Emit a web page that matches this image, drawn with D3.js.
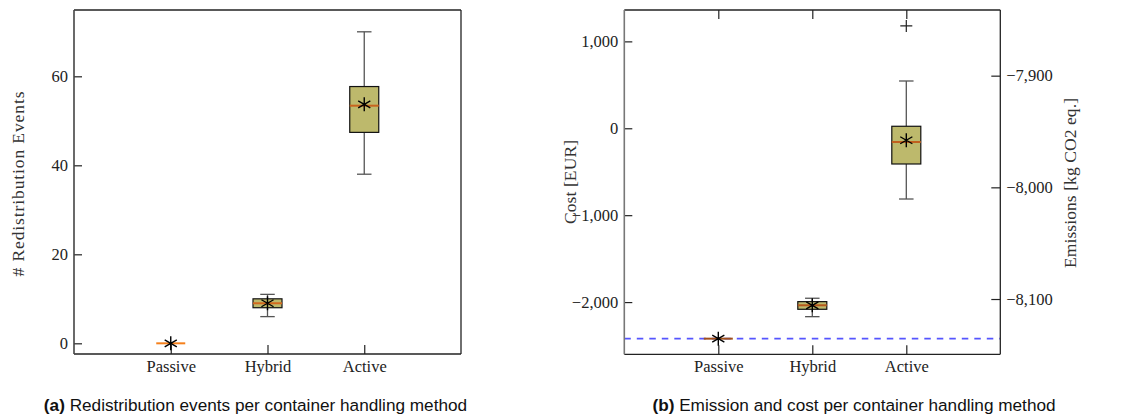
<!DOCTYPE html>
<html>
<head>
<meta charset="utf-8">
<script src="https://cdn.jsdelivr.net/npm/d3@7"></script>
<style>
  body { margin: 0; background: #fff; }
  svg { display: block; }
</style>
</head>
<body>
<svg id="chart" width="1136" height="418"></svg>
<script>
const width = 1136;
const height = 418;

const methods = ["Passive", "Hybrid", "Active"];

// (a) redistribution events: [whiskerLow, q1, median, q3, whiskerHigh]
const eventStats = [
    [0, 0, 0, 0, 0],
    [6, 8, 9, 10, 11],
    [38, 47.4, 53.4, 57.7, 70]
];
const eventMeans = [0, 9, 53.7];
const eventTicks = [0, 20, 40, 60];

// (b) cost in EUR
const costStats = [
    [-2421, -2421, -2421, -2421, -2421],
    [-2168, -2083, -2037, -1995, -1956],
    [-814, -411, -158, 23, 544]
];
const costMeans = [-2421, -2037, -138];
const costFliers = [[], [], [1178]];
const costTicks = [-2000, -1000, 0, 1000];

// emissions reference (right axis)
const emissionLine = -8135.5;
const emissionTicks = [-8100, -8000, -7900];

const serif = "'Liberation Serif', 'Times New Roman', serif";
const sans = "'Liberation Sans', Arial, sans-serif";
const fmt = d3.format(",");
const minusFmt = d => (d < 0 ? "\u2212" : "") + fmt(Math.abs(d));

const svg = d3.select("#chart").attr("viewBox", [0, 0, width, height]);

function star(g, x, y, r) {
    const path = d3.path();
    [90, 30, -30].forEach(a => {
        const rad = a * Math.PI / 180;
        path.moveTo(x - r * Math.cos(rad), y - r * Math.sin(rad));
        path.lineTo(x + r * Math.cos(rad), y + r * Math.sin(rad));
    });
    g.append("path").attr("d", path.toString())
        .style("stroke", "#000").style("stroke-width", 1.4).style("fill", "none");
}

function boxes(g, x, y, stats, means, medianColors, boxW) {
    stats.forEach((s, i) => {
        const cx = x(i + 1);
        const [lo, q1, med, q3, hi] = s;
        const grp = g.append("g");
        // whiskers
        grp.append("line").attr("x1", cx).attr("x2", cx).attr("y1", y(hi)).attr("y2", y(q3))
            .style("stroke", "#555").style("stroke-width", 1.3);
        grp.append("line").attr("x1", cx).attr("x2", cx).attr("y1", y(q1)).attr("y2", y(lo))
            .style("stroke", "#555").style("stroke-width", 1.3);
        if (hi !== lo) {
            [hi, lo].forEach(v => grp.append("line")
                .attr("x1", cx - boxW / 4).attr("x2", cx + boxW / 4)
                .attr("y1", y(v)).attr("y2", y(v))
                .style("stroke", "#555").style("stroke-width", 1.3));
            grp.append("rect")
                .attr("x", cx - boxW / 2).attr("y", y(q3))
                .attr("width", boxW).attr("height", y(q1) - y(q3))
                .style("fill", "#bdb96c").style("stroke", "#111").style("stroke-width", 1.2);
        }
        grp.append("line")
            .attr("x1", cx - boxW / 2).attr("x2", cx + boxW / 2)
            .attr("y1", y(med)).attr("y2", y(med))
            .style("stroke", medianColors[i]).style("stroke-width", 2);
        star(grp, cx, y(means[i]), 7);
    });
}

function frame(g, x0, x1, y0, y1, leftColor) {
    g.append("line").attr("x1", x0).attr("x2", x1).attr("y1", y0).attr("y2", y0)
        .style("stroke", "#222").style("stroke-width", 1.3);
    g.append("line").attr("x1", x0).attr("x2", x1).attr("y1", y1).attr("y2", y1)
        .style("stroke", "#222").style("stroke-width", 1.3);
    g.append("line").attr("x1", x0).attr("x2", x0).attr("y1", y0).attr("y2", y1)
        .style("stroke", leftColor).style("stroke-width", 1.6);
    g.append("line").attr("x1", x1).attr("x2", x1).attr("y1", y0).attr("y2", y1)
        .style("stroke", "#222").style("stroke-width", 1.3);
}

function styleAxis(sel) {
    sel.select(".domain").remove();
    sel.selectAll(".tick line").style("stroke", "#222").style("stroke-width", 1.2);
    sel.selectAll(".tick text").style("font-family", serif).style("font-size", "16.5px").style("fill", "#222");
}

function axisLabel(g, x, y, txt, len) {
    g.append("text")
        .attr("transform", `translate(${x},${y}) rotate(-90)`)
        .attr("text-anchor", "middle").attr("dy", "0.35em")
        .attr("textLength", len).attr("lengthAdjust", "spacing")
        .style("font-family", serif).style("font-size", "17.5px").style("fill", "#333")
        .text(txt);
}

// ---------- Panel (a) ----------
const a = { left: 74, right: 461, top: 10, bottom: 354 };
const xA = d3.scaleLinear().domain([0, 4]).range([a.left, a.right]);
const yA = d3.scaleLinear().domain([-2.4, 74.9]).range([a.bottom, a.top]);

const gA = svg.append("g");
gA.append("g").attr("transform", `translate(${a.left},0)`)
    .call(d3.axisLeft(yA).tickValues(eventTicks).tickSize(-8).tickPadding(6).tickFormat(d3.format("d")))
    .call(styleAxis);
gA.append("g").attr("transform", `translate(0,${a.bottom})`)
    .call(d3.axisBottom(xA).tickValues([1, 2, 3]).tickSize(-9).tickPadding(6).tickFormat(d => methods[d - 1]))
    .call(styleAxis);

boxes(gA, xA, yA, eventStats, eventMeans, ["#f5801c", "#d2691e", "#c8641e"], 29);
frame(gA, a.left, a.right, a.top, a.bottom, "#444");

axisLabel(gA, 18, 184, "# Redistribution Events", 185);

// ---------- Panel (b) ----------
const b = { left: 624.3, right: 1000.3, top: 10, bottom: 354.3 };
const xB = d3.scaleLinear().domain([0, 4]).range([b.left, b.right]);
const yB = d3.scaleLinear().domain([-2601, 1361]).range([b.bottom, b.top]);
const yE = d3.scaleLinear().domain([-8149.5, -7841.2]).range([b.bottom, b.top]);

const gB = svg.append("g");
gB.append("g").attr("transform", `translate(${b.left},0)`)
    .call(d3.axisLeft(yB).tickValues(costTicks).tickSize(-8).tickPadding(6).tickFormat(minusFmt))
    .call(styleAxis);
gB.append("g").attr("transform", `translate(${b.right},0)`)
    .call(d3.axisRight(yE).tickValues(emissionTicks).tickSize(-9).tickPadding(6).tickFormat(minusFmt))
    .call(styleAxis);
gB.append("g").attr("transform", `translate(0,${b.bottom})`)
    .call(d3.axisBottom(xB).tickValues([1, 2, 3]).tickSize(-9).tickPadding(6).tickFormat(d => methods[d - 1]))
    .call(styleAxis);
gB.append("g").attr("transform", `translate(0,${b.top})`)
    .call(d3.axisTop(xB).tickValues([1, 2, 3]).tickSize(-9).tickFormat(""))
    .call(styleAxis);

// emissions reference line
gB.append("line")
    .attr("x1", b.left).attr("x2", b.right)
    .attr("y1", yE(emissionLine)).attr("y2", yE(emissionLine))
    .style("stroke", "#5555ff").style("stroke-width", 1.8).style("stroke-dasharray", "6.5,6");

boxes(gB, xB, yB, costStats, costMeans, ["#a0501a", "#b5581c", "#c0601e"], 29);

costFliers.forEach((fl, i) => fl.forEach(v => {
    const cx = xB(i + 1), cy = yB(v);
    gB.append("path").attr("d", `M${cx - 6},${cy}H${cx + 6}M${cx},${cy - 6}V${cy + 6}`)
        .style("stroke", "#222").style("stroke-width", 1.2).style("fill", "none");
}));

frame(gB, b.left, b.right, b.top, b.bottom, "#777");

axisLabel(gB, 570, 182, "Cost [EUR]", 84);
axisLabel(gB, 1070, 183, "Emissions [kg CO2 eq.]", 170);

// ---------- Captions ----------
[["(a)", " Redistribution events per container handling method", 255.5],
 ["(b)", " Emission and cost per container handling method", 854]].forEach(([lab, txt, cx]) => {
    const t = svg.append("text")
        .attr("x", cx).attr("y", 411)
        .attr("text-anchor", "middle")
        .style("font-family", sans).style("font-size", "17.2px").style("fill", "#111");
    t.append("tspan").style("font-weight", "bold").text(lab);
    t.append("tspan").text(txt);
});
</script>
</body>
</html>
